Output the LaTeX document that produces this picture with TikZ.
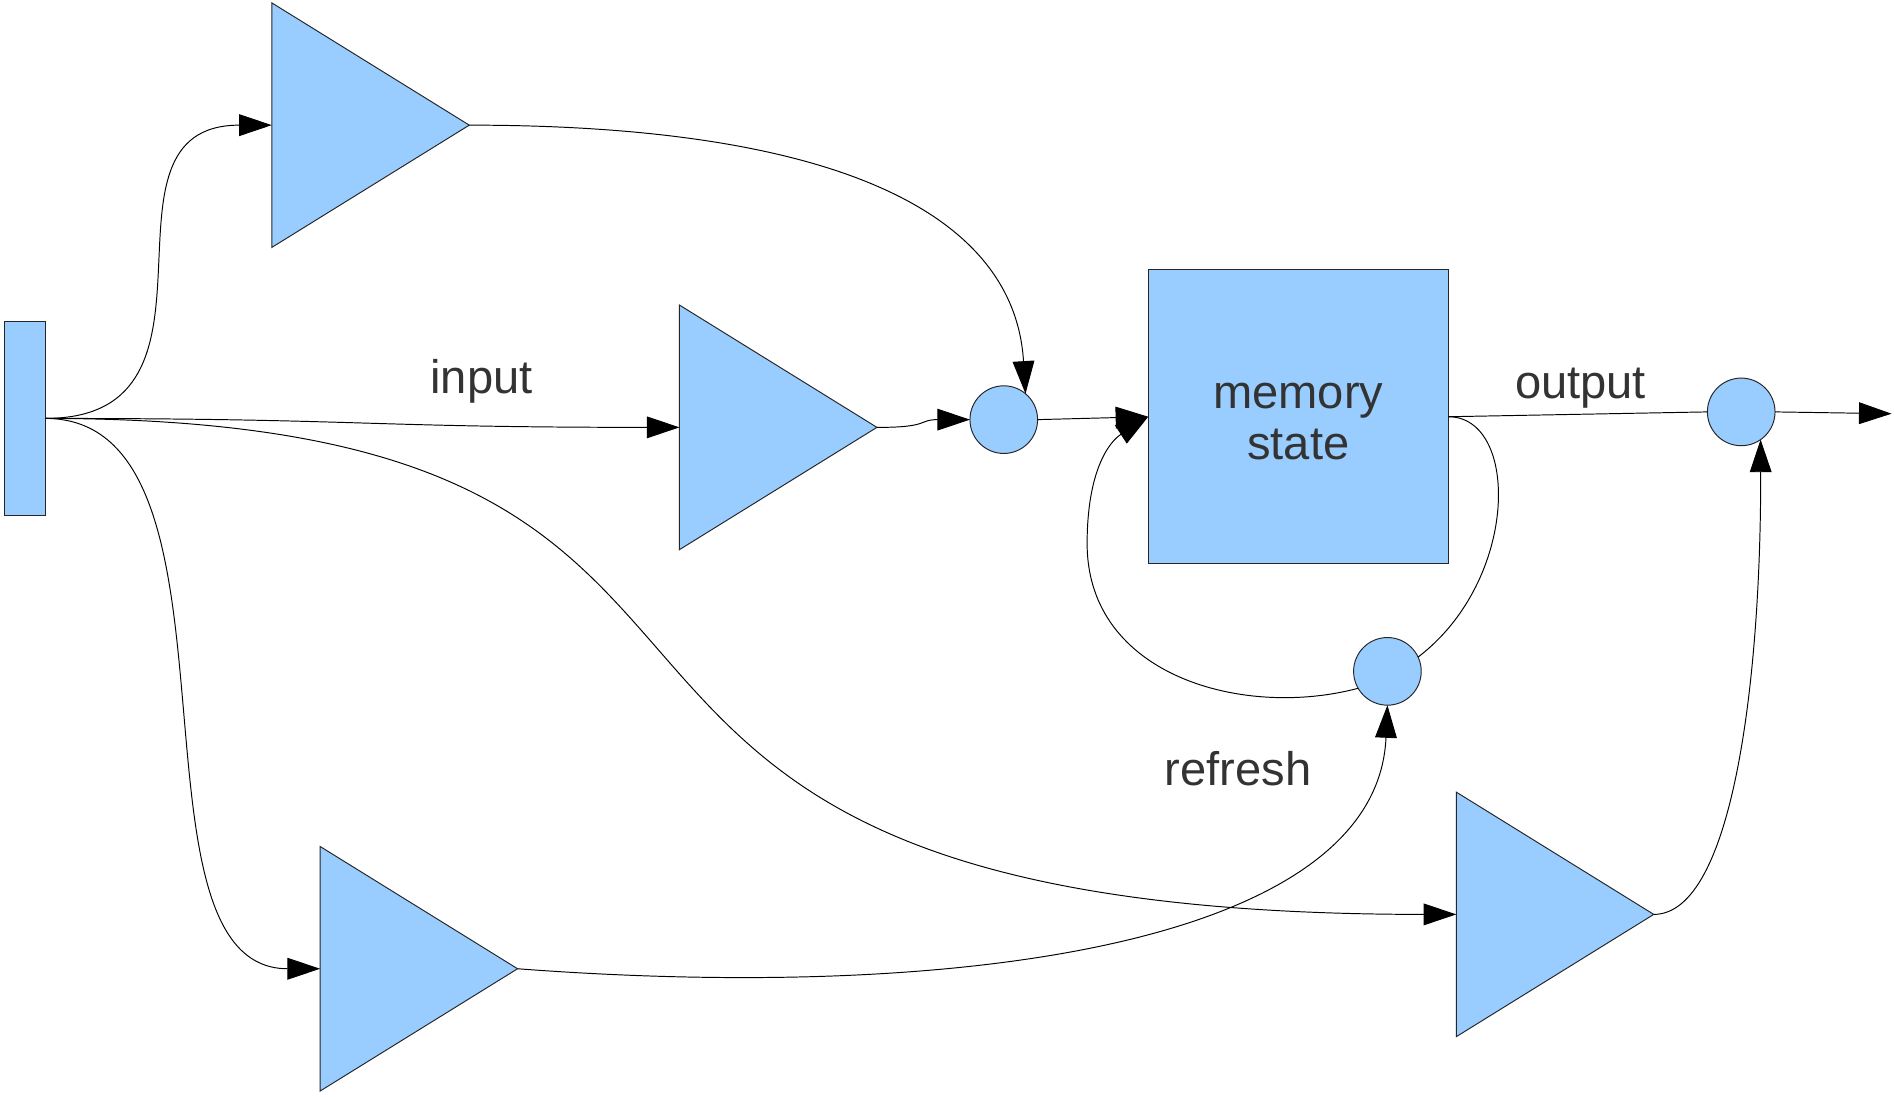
\documentclass[tikz,border=0pt]{standalone}
\usepackage{fontspec}
\setmainfont{Liberation Sans}
\usetikzlibrary{arrows.meta,shapes.geometric}
\definecolor{fillblue}{HTML}{99CCFF}
\definecolor{txtgrey}{HTML}{333333}
\begin{document}
\begin{tikzpicture}[x=1pt,y=-1pt,
  shapeline/.style={draw=black!85, line width=0.8pt, fill=fillblue},
  amp/.style={shapeline, isosceles triangle, isosceles triangle stretches,
    shape border rotate=0, minimum width=202.5pt, minimum height=163.5pt,
    inner sep=0pt, outer sep=0pt},
  junction/.style={shapeline, circle, minimum size=56pt, inner sep=0pt, outer sep=0pt},
  lbl/.style={text=txtgrey, font=\fontsize{39}{42}\selectfont, inner sep=0pt},
  wire/.style={draw=black, line width=0.8pt},
  arr/.style={wire, -{Triangle[length=27pt,width=18pt]}}]
\useasboundingbox (0,0) rectangle (1568,907.4);

% nodes
\node[shapeline, rectangle, minimum width=33.5pt, minimum height=161pt, inner sep=0pt, outer sep=0pt] (src) at (20.75,346.4) {};
\node[amp, anchor=lower side] (amp1) at (225,103.6) {};
\node[amp, anchor=lower side] (amp2) at (562.5,353.8) {};
\node[amp, anchor=lower side] (amp3) at (265,802) {};
\node[amp, anchor=lower side] (amp4) at (1205.6,757) {};
\node[junction] (sum) at (831,347.4) {};
\node[junction] (rfr) at (1148.6,555.8) {};
\node[junction] (out) at (1441.5,341) {};
\node[shapeline, rectangle, minimum width=248.4pt, minimum height=243.5pt, inner sep=0pt, outer sep=0pt] (mem) at (1074.8,345) {};
\node[lbl, align=center, yshift=-4pt] (memtxt) at (mem.center) {memory\\state};
\coordinate (end) at (1566,342.5);

% labels
\node[lbl, anchor=base] (lin) at (398.6,325.6) {input};
\node[lbl, anchor=base] (lout) at (1308.5,330) {output};
\node[lbl, anchor=base] (lref) at (1025,650) {refresh};

% connectors
\draw[arr] (src.east) .. controls (204,346.4) and (67,103.6) .. (amp1.lower side);
\draw[arr] (src.east) .. controls (300,346.4) and (300,353.8) .. (amp2.lower side);
\draw[arr] (src.east) .. controls (215,346.4) and (95,802) .. (amp3.lower side);
\draw[arr] (src.east) .. controls (750,346.4) and (330,757) .. (amp4.lower side);
\draw[arr] (amp1.apex) .. controls (700,103.6) and (840,180) .. (sum.50);
\draw[arr] (amp2.apex) .. controls (770,354) and (760,347.4) .. (sum.west);
\draw[arr] (sum.east) -- (mem.west);
\draw[wire] (mem.east) -- (out.west);
\draw[arr] (out.east) -- (end);
\draw[wire] (mem.east) .. controls (1258,345) and (1258,480) .. (rfr.25);
\draw[arr] (rfr.210) .. controls (1030,595) and (900,560) .. (900,450) .. controls (900,390) and (918,366) .. (mem.west);
\draw[arr] (amp3.apex) .. controls (800,830) and (1140,780) .. (rfr.south);
\draw[arr] (amp4.apex) .. controls (1435,757) and (1458,560) .. (out.-55);
\end{tikzpicture}
\end{document}
